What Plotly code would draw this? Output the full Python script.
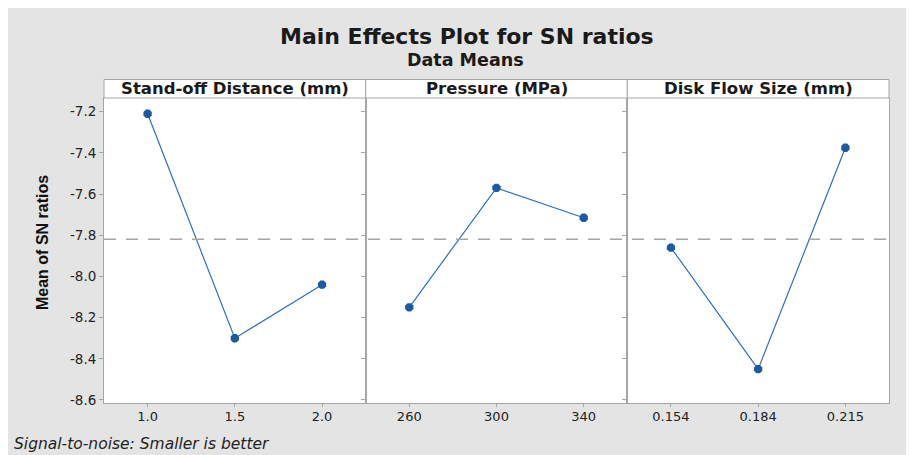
import plotly.graph_objects as go
from plotly.subplots import make_subplots

# ---- data ----
factors = ["Stand-off Distance (mm)", "Pressure (MPa)", "Disk Flow Size (mm)"]
standoff_levels = ["1.0", "1.5", "2.0"]
standoff_sn = [-7.21, -8.30, -8.04]
pressure_levels = ["260", "300", "340"]
pressure_sn = [-8.15, -7.57, -7.715]
disk_levels = ["0.154", "0.184", "0.215"]
disk_sn = [-7.86, -8.45, -7.375]
overall_mean = -7.82
y_ticks = [-7.2, -7.4, -7.6, -7.8, -8.0, -8.2, -8.4, -8.6]

levels = [standoff_levels, pressure_levels, disk_levels]
values = [standoff_sn, pressure_sn, disk_sn]

OFF = 8  # page body margin
W, H = 914, 455
L, R, T, B = 104 - OFF, 914 - (889 - OFF), 98 - OFF, 455 - (403 - OFF)
PW, PH = W - L - R, H - T - B

def px_x(px):  # px in reference image coords
    return (px - OFF - L) / PW

def px_y(py):
    return (H - B - (py - OFF)) / PH

BG = "#e4e4e4"
AX = "#a6a6a6"
LINE = "#2f6fb8"
MARK = "#1d5aa6"
FONT = "DejaVu Sans"

fig = make_subplots(rows=1, cols=3, shared_yaxes=True, horizontal_spacing=0)

for i in range(3):
    fig.add_trace(go.Scatter(
        x=levels[i], y=values[i], mode="lines+markers",
        line=dict(color=LINE, width=1.2),
        marker=dict(symbol="octagon", size=9, color=MARK),
        showlegend=False, hoverinfo="skip"), row=1, col=i + 1)

for i in range(3):
    fig.update_xaxes(type="category", range=[-0.5, 2.5], showgrid=False,
                     showline=True, linecolor=AX, linewidth=1, mirror=True,
                     ticks="outside", ticklen=3, tickcolor=AX,
                     ticklabelstandoff=-2,
                     tickfont=dict(family=FONT, size=13, color="#222"),
                     zeroline=False, row=1, col=i + 1)

fig.update_yaxes(range=[-8.6146, -7.1335], tickvals=y_ticks,
                 ticktext=[f"{v:.1f}" for v in y_ticks],
                 showgrid=False, zeroline=False, showline=True, linecolor=AX,
                 linewidth=1, mirror=True, ticks="outside", ticklen=4,
                 tickcolor=AX, tickfont=dict(family=FONT, size=13.5, color="#222"))

shapes = []
# mean reference line
shapes.append(dict(type="line", xref="paper", yref="y", x0=0, x1=1,
                   y0=overall_mean, y1=overall_mean,
                   line=dict(color=AX, width=1.5, dash="12px,10px")))
annotations = []
domains = [fig.layout.xaxis.domain, fig.layout.xaxis2.domain, fig.layout.xaxis3.domain]
for i in range(3):
    d = domains[i]
    shapes.append(dict(type="rect", xref="paper", yref="paper", x0=d[0], x1=d[1],
                       y0=1, y1=px_y(79.5), fillcolor="white",
                       line=dict(color=AX, width=1)))
    annotations.append(dict(text=factors[i], xref="paper", yref="paper",
                            x=(d[0] + d[1]) / 2, y=(1 + px_y(79.5)) / 2,
                            showarrow=False, xanchor="center", yanchor="middle",
                            font=dict(family=FONT, size=16.5, weight="bold", color="#1a1a1a")))

annotations.append(dict(text="Main Effects Plot for SN ratios", xref="paper", yref="paper",
                        x=px_x(467), y=px_y(36), showarrow=False, xanchor="center",
                        yanchor="middle", font=dict(family=FONT, size=22, weight="bold", color="#1a1a1a")))
annotations.append(dict(text="Data Means", xref="paper", yref="paper",
                        x=px_x(465), y=px_y(60), showarrow=False, xanchor="center",
                        yanchor="middle", font=dict(family=FONT, size=17.5, weight="bold", color="#1a1a1a")))
annotations.append(dict(text="<b>Mean of SN ratios</b>", xref="paper", yref="paper",
                        x=px_x(42), y=px_y(243), showarrow=False, textangle=-90,
                        xanchor="center", yanchor="middle",
                        font=dict(family="Liberation Sans Narrow, Liberation Sans", size=16, color="#111")))
annotations.append(dict(text="<i>Signal-to-noise: Smaller is better</i>", xref="paper", yref="paper",
                        x=px_x(12), y=px_y(444), showarrow=False, xanchor="left",
                        yanchor="middle", font=dict(family=FONT, size=15.5, color="#222")))

fig.update_layout(width=W, height=H, margin=dict(l=L, r=R, t=T, b=B),
                  paper_bgcolor=BG, plot_bgcolor="white",
                  shapes=shapes, annotations=annotations, showlegend=False)

fig.write_html("out.html")
